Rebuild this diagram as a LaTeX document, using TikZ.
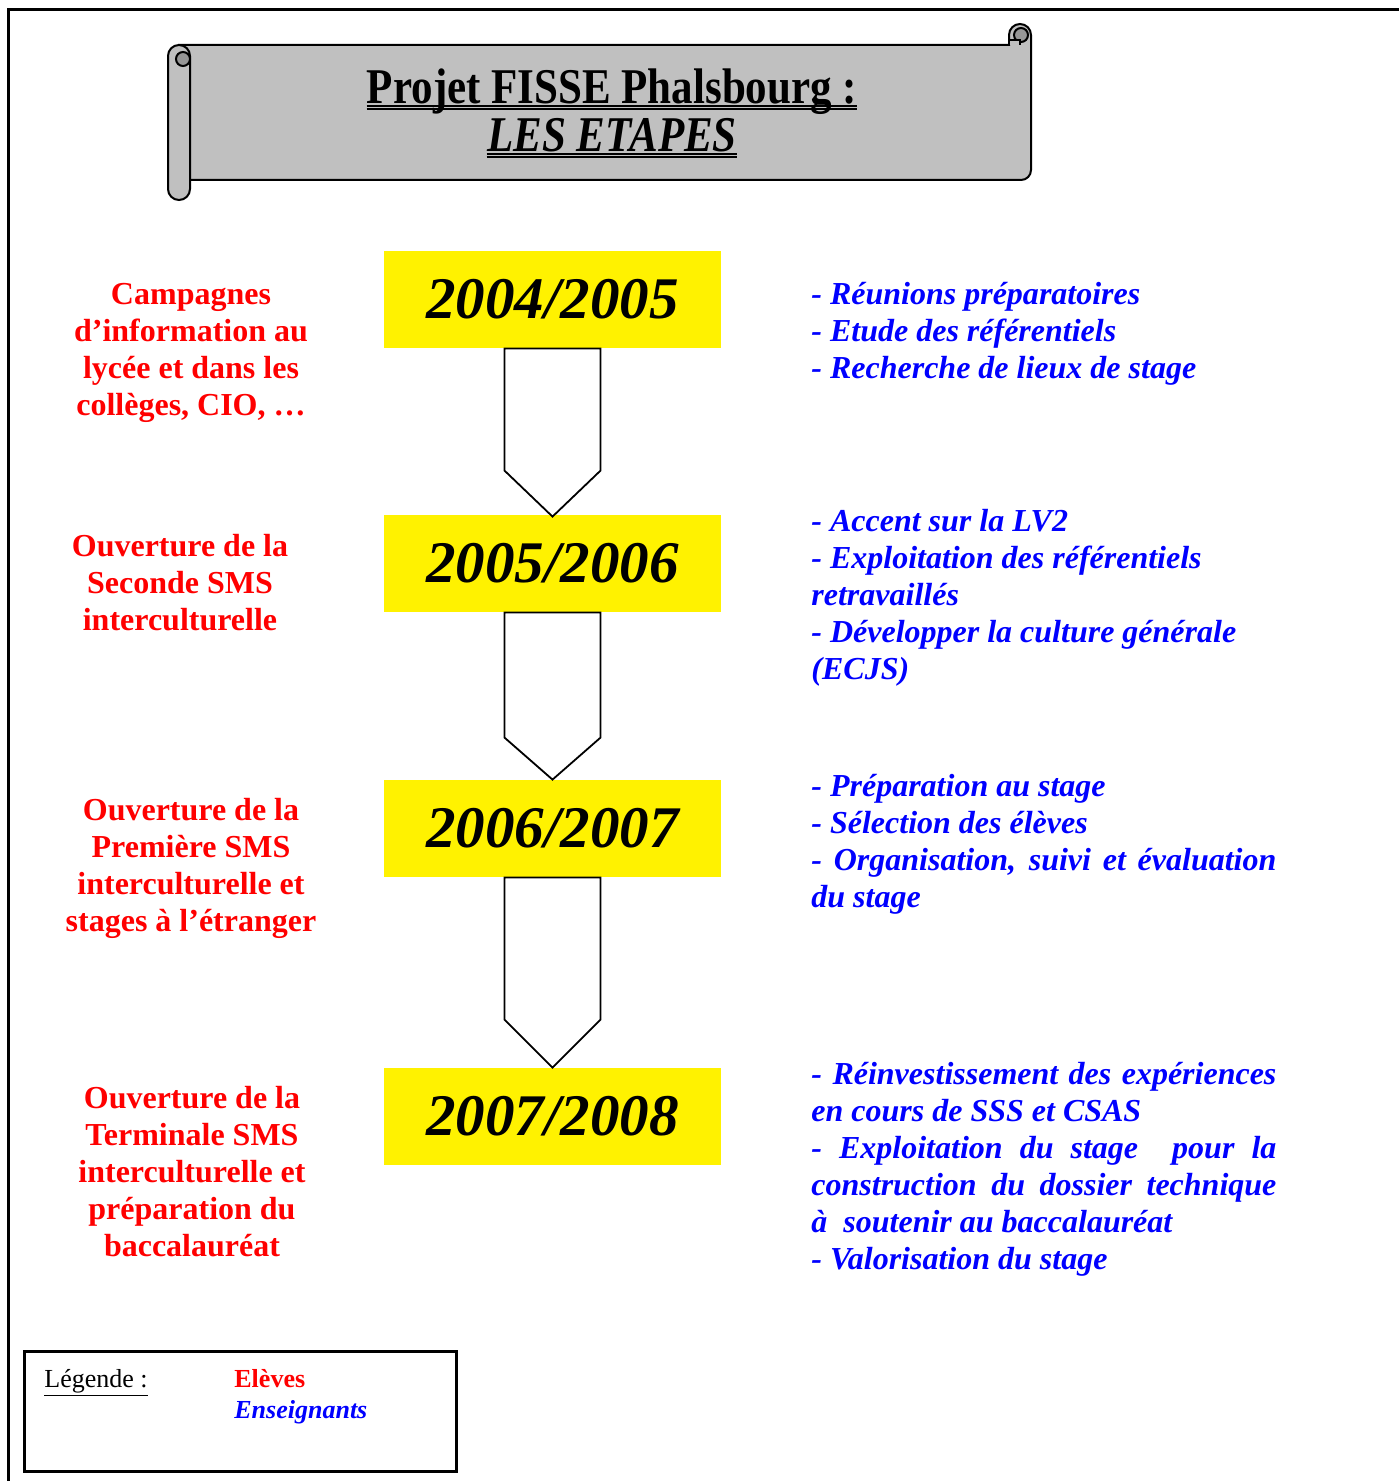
\documentclass[tikz,border=0pt]{standalone}
\usepackage{fontspec}
\setmainfont{Liberation Serif}
\newfontfamily\titlefont[FakeStretch=0.86]{Liberation Serif}

\definecolor{scrollgray}{RGB}{192,192,192}
\definecolor{curlgray}{RGB}{150,150,150}
\newcommand\jline[1]{\hbox to 232.5pt{#1}}

\begin{document}
\begin{tikzpicture}[x=0.5pt,y=-0.5pt,
	scroll/.style={draw=black,line width=1pt,fill=scrollgray},
	titre/.style={inner sep=0pt,font=\titlefont\fontsize{25}{25}\selectfont\bfseries},
	year/.style={fill=yellow,minimum width=168.5pt,minimum height=48.5pt,inner sep=0pt,
		font=\fontsize{29.5}{30}\selectfont\bfseries\itshape},
	blockarrow/.style={draw=black,line width=0.9pt,fill=white,line join=miter},
	eleve/.style={text=red,align=center,inner sep=0pt,font=\fontsize{16}{18.5}\selectfont\bfseries},
	prof/.style={text=blue,align=left,inner sep=0pt,font=\fontsize{16}{18.5}\selectfont\bfseries\itshape},
	legtext/.style={anchor=base west,inner sep=0pt,font=\fontsize{13}{15}\selectfont}]

\useasboundingbox (0,0) rectangle (1399,1481);
\draw[line width=1.5pt] (8,1481) -- (8,10) -- (1399,10);

% parchemin
\draw[scroll] (179,45) -- (1009,45) -- (1009,35) arc[start angle=180,end angle=360,radius=11]
	-- (1031,170) arc[start angle=0,end angle=90,radius=10] -- (179,180) -- cycle;
\draw[scroll,fill=curlgray] (1021,35) circle[radius=7];
\draw[scroll] (1009,45) -- (1009,40) -- (1020,40) -- (1020,45);
\draw[scroll,rounded corners=5.5pt] (168,45) rectangle (190,200);
\draw[scroll,fill=curlgray] (183,59) circle[radius=7];

\node[titre,anchor=base] (titre1) at (612,104) {Projet FISSE Phalsbourg :};
\node[titre,anchor=base,font=\titlefont\fontsize{25}{25}\selectfont\bfseries\itshape] (titre2) at (612,152) {LES ETAPES};
\foreach \t in {titre1,titre2}{
	\draw[line width=0.9pt] ([yshift=-0.9pt]\t.base west) -- ([yshift=-0.9pt]\t.base east);
	\draw[line width=0.9pt] ([yshift=-2.6pt]\t.base west) -- ([yshift=-2.6pt]\t.base east);
}

% annees
\node[year] (an1) at (552.5,299.5) {2004/2005};
\node[year] (an2) at (552.5,563.5) {2005/2006};
\node[year] (an3) at (552.5,828.5) {2006/2007};
\node[year] (an4) at (552.5,1116.5) {2007/2008};

\draw[blockarrow] ([xshift=-24pt]an1.south) -- ([xshift=-24pt,yshift=22pt]an2.north) -- ([yshift=-1pt]an2.north)
	-- ([xshift=24pt,yshift=22pt]an2.north) -- ([xshift=24pt]an1.south) -- cycle;
\draw[blockarrow] ([xshift=-24pt]an2.south) -- ([xshift=-24pt,yshift=21pt]an3.north) -- (an3.north)
	-- ([xshift=24pt,yshift=21pt]an3.north) -- ([xshift=24pt]an2.south) -- cycle;
\draw[blockarrow] ([xshift=-24pt]an3.south) -- ([xshift=-24pt,yshift=24pt]an4.north) -- (an4.north)
	-- ([xshift=24pt,yshift=24pt]an4.north) -- ([xshift=24pt]an3.south) -- cycle;

% eleves
\node[eleve,anchor=north] (e1) at (191,283) {Campagnes\\d’information au\\lycée et dans les\\collèges, CIO, …};
\node[eleve,anchor=north] (e2) at (180,534) {Ouverture de la\\Seconde SMS\\interculturelle};
\node[eleve,anchor=north] (e3) at (191,798) {Ouverture de la\\Première SMS\\interculturelle et\\stages à l’étranger};
\node[eleve,anchor=north] (e4) at (192,1086) {Ouverture de la\\Terminale SMS\\interculturelle et\\préparation du\\baccalauréat};

% enseignants
\node[prof,anchor=north west] (p1) at (811,282) {- Réunions préparatoires\\- Etude des référentiels\\- Recherche de lieux de stage};
\node[prof,anchor=north west] (p2) at (811,509) {- Accent sur la LV2\\- Exploitation des référentiels\\retravaillés\\- Développer la culture générale\\(ECJS)};
\node[prof,anchor=north west] (p3) at (811,774) {- Préparation au stage\\- Sélection des élèves\\\jline{- Organisation, suivi et évaluation}\\du stage};
\node[prof,anchor=north west] (p4) at (811,1062) {\jline{- Réinvestissement des expériences}\\en cours de SSS et CSAS\\\jline{- Exploitation du stage \ pour la}\\\jline{construction du dossier technique}\\à \ soutenir au baccalauréat\\- Valorisation du stage};

% legende
\node[draw,line width=1.5pt,minimum width=216pt,minimum height=60pt,inner sep=0pt] (legende) at (240,1411) {};
\node[legtext] (leg) at (44,1387) {\underline{Légende :}};
\node[legtext,text=red,font=\fontsize{13}{15}\selectfont\bfseries] (legeleve) at (234,1387) {Elèves};
\node[legtext,text=blue,font=\fontsize{13}{15}\selectfont\bfseries\itshape] (legprof) at (234,1418) {Enseignants};

\end{tikzpicture}
\end{document}
